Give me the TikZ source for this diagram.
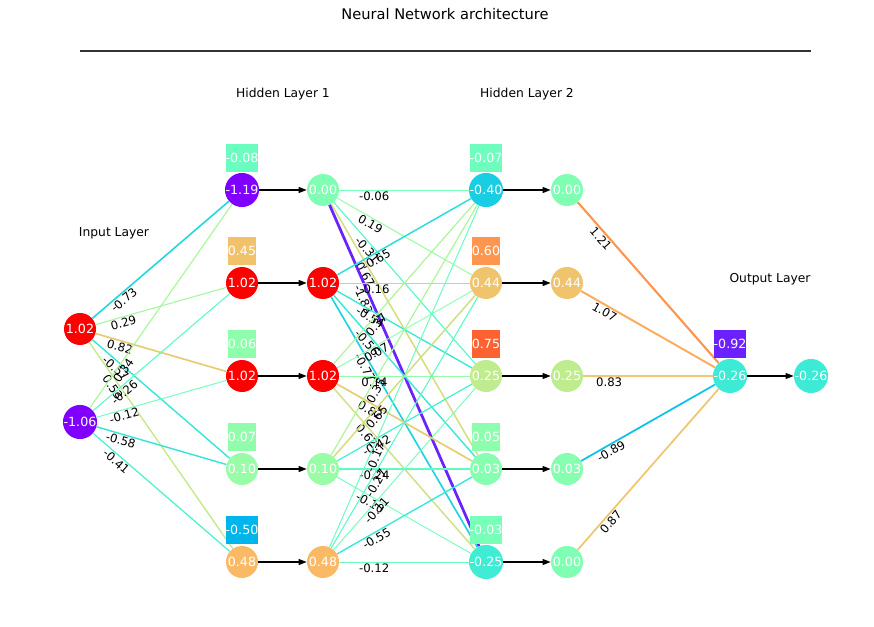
\documentclass[tikz,border=0pt]{standalone}
\usepackage{fontspec}
\setmainfont{DejaVu Sans}
\usetikzlibrary{arrows.meta}

% rainbow colour map, t in [0,1]
\newcommand{\rbcolor}[2]{%
  \pgfmathsetmacro{\rbR}{max(0,min(1,abs(2*(#2)-0.5)))}%
  \pgfmathsetmacro{\rbG}{max(0,min(1,sin(180*(#2))))}%
  \pgfmathsetmacro{\rbB}{max(0,min(1,cos(90*(#2))))}%
  \definecolor{#1}{rgb}{\rbR,\rbG,\rbB}}
% neuron / bias colour from its value
\newcommand{\valcolor}[2]{%
  \pgfmathsetmacro{\tv}{max(0,min(1,(#2+1)/2))}%
  \rbcolor{#1}{\tv}}
% weighted connection: from, to, weight, label position
\newcommand{\weightline}[4]{%
  \pgfmathsetmacro{\tv}{(#3+2)/4}%
  \rbcolor{ec}{\tv}%
  \pgfmathsetmacro{\lw}{0.7+0.9*abs(#3)}%
  \draw[ec, line width=\lw pt] (#1) -- node[wlab, pos=#4, sloped, below] {#3} (#2);}

\begin{document}
\begin{tikzpicture}[x=0.03cm, y=-0.03cm,
neuron/.style={circle, minimum size=0.96cm, inner sep=0pt, text=white, font=\fontsize{10.8}{12}\selectfont},
biasbox/.style={rectangle, minimum width=0.84cm, minimum height=0.86cm, inner sep=0pt, text=white, font=\fontsize{10.8}{12}\selectfont},
wlab/.style={text=black, font=\fontsize{10}{11}\selectfont, inner sep=1pt},
layerlab/.style={font=\fontsize{10.5}{12}\selectfont},
fwd/.style={-{Triangle[length=7pt, width=5pt]}, line width=1.3pt}
]

\useasboundingbox (0,0) rectangle (874,627);

\node[font=\fontsize{12.5}{14}\selectfont] (title) at (445,14) {Neural Network architecture};
\draw[line width=1.2pt, black!80] (80,51) -- (811,51);

\node[layerlab] (lin) at (114,233) {Input Layer};
\node[layerlab] (lh1) at (283,94) {Hidden Layer 1};
\node[layerlab] (lh2) at (527,94) {Hidden Layer 2};
\node[layerlab] (lout) at (770,279) {Output Layer};

% input layer
\foreach \val [count=\i] in {1.02,-1.06} {
  \valcolor{nc}{\val}
  \node[neuron, fill=nc] (in\i) at (80,{236+93*\i}) {\val};
}

% hidden layer 1, before and after activation
\foreach \val/\act [count=\i] in {-1.19/0.00, 1.02/1.02, 1.02/1.02, 0.10/0.10, 0.48/0.48} {
  \valcolor{nc}{\val}
  \node[neuron, fill=nc] (ha\i) at (242,{97+93*\i}) {\val};
  \valcolor{nc}{\act}
  \node[neuron, fill=nc] (hb\i) at (323,{97+93*\i}) {\act};
  \draw[fwd] (ha\i) -- (hb\i);
}

% hidden layer 2, before and after activation
\foreach \val/\act [count=\i] in {-0.40/0.00, 0.44/0.44, 0.25/0.25, 0.03/0.03, -0.25/0.00} {
  \valcolor{nc}{\val}
  \node[neuron, fill=nc] (hc\i) at (486,{97+93*\i}) {\val};
  \valcolor{nc}{\act}
  \node[neuron, fill=nc] (hd\i) at (567,{97+93*\i}) {\act};
  \draw[fwd] (hc\i) -- (hd\i);
}

% output layer
\valcolor{nc}{-0.26}
\node[neuron, fill=nc] (oa) at (730,376) {-0.26};
\node[neuron, fill=nc] (ob) at (811,376) {-0.26};
\draw[fwd] (oa) -- (ob);

% weights
\foreach \row [count=\i] in {{-0.73,0.29,0.82,-0.57,0.53},{0.34,-0.26,-0.12,-0.58,-0.41}} {
  \foreach \w [count=\j] in \row {
    \weightline{in\i}{ha\j}{\w}{0.2}
  }
}

\foreach \row [count=\i] in {{-0.06,0.19,-0.31,0.67,-1.83},{-0.65,-0.16,-0.54,-0.56,-0.77},{0.37,0.07,0.14,0.82,0.62},{0.35,0.65,-0.42,-0.24,-0.10},{-0.17,-0.27,-0.11,-0.55,-0.12}} {
  \foreach \w [count=\j] in \row {
    \weightline{hb\i}{hc\j}{\w}{0.27}
  }
}

\foreach \w [count=\i] in {1.21,1.07,0.83,-0.89,0.87} {
  \weightline{hd\i}{oa}{\w}{0.2}
}

% biases
\foreach \b [count=\i] in {-0.08,0.45,0.06,0.07,-0.50} {
  \valcolor{bc}{\b}
  \node[biasbox, fill=bc] (ba\i) at (242,{65+93*\i}) {\b};
}
\foreach \b [count=\i] in {-0.07,0.60,0.75,0.05,-0.03} {
  \valcolor{bc}{\b}
  \node[biasbox, fill=bc] (bc\i) at (486,{65+93*\i}) {\b};
}
\valcolor{bc}{-0.92}
\node[biasbox, fill=bc] (bo) at (730,344) {-0.92};

\end{tikzpicture}
\end{document}
